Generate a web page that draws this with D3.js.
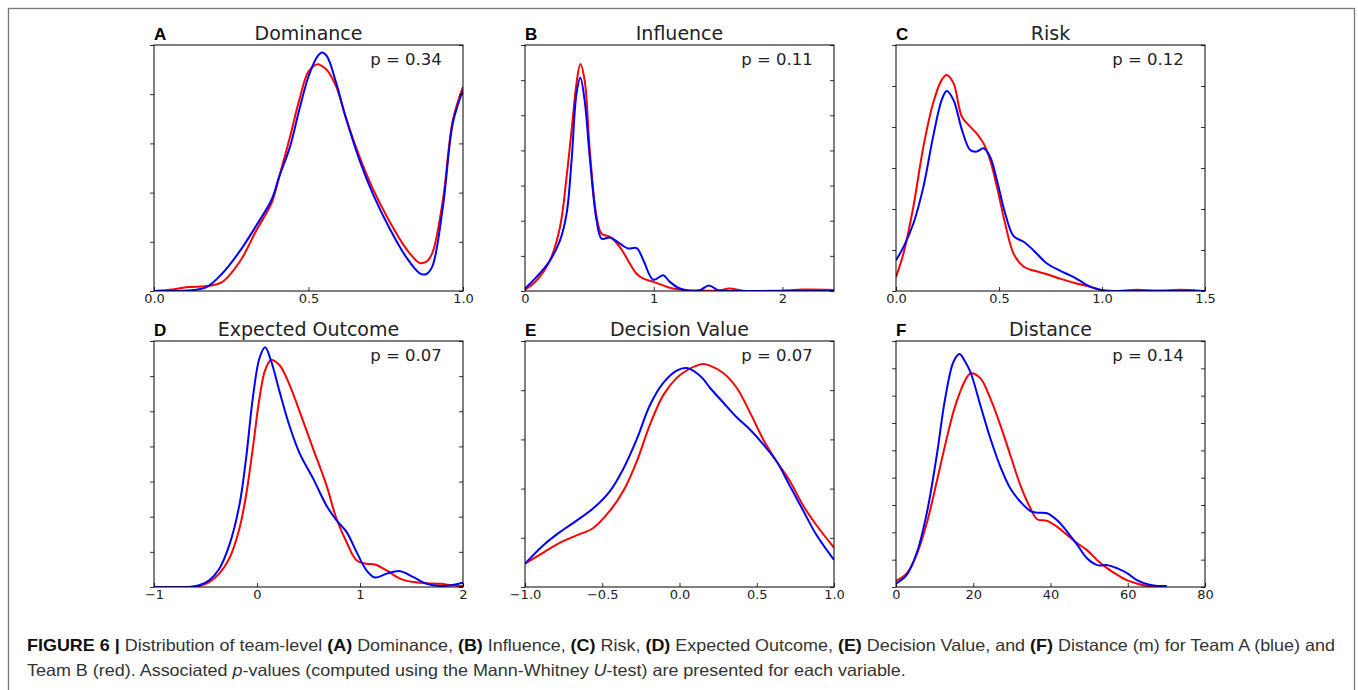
<!DOCTYPE html>
<html>
<head>
<meta charset="utf-8">
<script src="https://cdn.jsdelivr.net/npm/d3@7"></script>
<style>
  body { margin: 0; background: #fff; }
  svg { display: block; }
</style>
</head>
<body>
<svg id="fig" width="1358" height="690"></svg>
<script>
// Kernel density curves. Team A = blue, Team B = red.

// (A) Dominance
const domX = [0, 0.06, 0.11, 0.17, 0.22, 0.28, 0.33, 0.38, 0.405, 0.44, 0.47, 0.50, 0.53, 0.544, 0.56, 0.59, 0.62, 0.665, 0.708, 0.76, 0.816, 0.86, 0.88, 0.90, 0.935, 0.967, 1.0];
const domA = [0, 0, 0.01, 0.08, 0.35, 0.83, 1.32, 1.85, 2.32, 2.93, 3.68, 4.36, 4.78, 4.85, 4.77, 4.22, 3.54, 2.66, 1.98, 1.30, 0.69, 0.36, 0.34, 0.49, 1.71, 3.41, 4.08];
const domB = [0, 0.03, 0.08, 0.10, 0.18, 0.62, 1.22, 1.78, 2.32, 3.13, 3.88, 4.46, 4.61, 4.57, 4.49, 4.15, 3.54, 2.73, 2.08, 1.44, 0.86, 0.57, 0.59, 0.76, 1.85, 3.47, 4.15];
const domTicks = [0, 0.5, 1];

// (B) Influence
const infX = [0, 0.09, 0.194, 0.272, 0.323, 0.362, 0.40, 0.43, 0.463, 0.505, 0.556, 0.595, 0.66, 0.737, 0.80, 0.867, 0.92, 0.996, 1.074, 1.125, 1.203, 1.28, 1.358, 1.428, 1.50, 1.59, 1.695, 1.953, 2.16, 2.4];
const infA = [0.07, 0.40, 0.87, 1.44, 2.2, 3.72, 5.62, 6.07, 5.43, 3.72, 2.01, 1.49, 1.52, 1.35, 1.21, 1.22, 0.87, 0.32, 0.45, 0.26, 0.07, 0, 0.02, 0.16, 0.02, 0, 0, 0, 0, 0];
const infB = [0.04, 0.30, 0.87, 1.82, 3.25, 4.58, 5.91, 6.46, 6.0, 3.91, 2.11, 1.63, 1.54, 1.25, 0.87, 0.49, 0.35, 0.26, 0.16, 0.09, 0.04, 0.02, 0.01, 0.01, 0.01, 0.07, 0.01, 0.01, 0.04, 0.03];
const infTicks = [0, 1, 2];

// (C) Risk
const riskX = [0, 0.036, 0.084, 0.133, 0.18, 0.222, 0.246, 0.279, 0.32, 0.36, 0.392, 0.425, 0.457, 0.49, 0.53, 0.571, 0.62, 0.668, 0.733, 0.798, 0.863, 0.944, 1.0, 1.057, 1.17, 1.268, 1.381, 1.5];
const riskA = [0.75, 1.07, 1.64, 2.54, 3.76, 4.66, 4.88, 4.66, 3.93, 3.44, 3.40, 3.48, 3.27, 2.70, 1.89, 1.34, 1.20, 0.99, 0.67, 0.49, 0.34, 0.10, 0.02, 0, 0, 0, 0, 0];
const riskB = [0.34, 0.91, 2.05, 3.52, 4.58, 5.15, 5.27, 5.07, 4.25, 4.01, 3.84, 3.60, 3.19, 2.54, 1.64, 0.91, 0.59, 0.50, 0.41, 0.30, 0.20, 0.10, 0.02, 0, 0.03, 0.01, 0.03, 0];
const riskTicks = [0, 0.5, 1, 1.5];

// (D) Expected Outcome
const expX = [-1, -0.659, -0.561, -0.464, -0.366, -0.269, -0.171, -0.106, -0.041, 0.024, 0.079, 0.137, 0.219, 0.316, 0.414, 0.544, 0.674, 0.771, 0.869, 0.966, 1.064, 1.145, 1.259, 1.389, 1.519, 1.649, 1.779, 1.892, 2.0];
const expA = [0, 0, 0.05, 0.19, 0.52, 1.19, 2.33, 3.66, 5.37, 6.51, 6.82, 6.43, 5.56, 4.58, 3.80, 3.09, 2.32, 1.90, 1.57, 1.00, 0.47, 0.27, 0.38, 0.45, 0.28, 0.09, 0.03, 0.05, 0.12];
const expB = [0, 0, 0.03, 0.14, 0.38, 0.81, 1.66, 2.61, 3.94, 5.37, 6.17, 6.46, 6.31, 5.75, 4.99, 3.94, 2.90, 1.95, 1.28, 0.76, 0.66, 0.64, 0.47, 0.24, 0.14, 0.11, 0.09, 0.05, 0.02];
const expTicks = [-1, 0, 1, 2];

// (E) Decision Value
const decX = [-1, -0.881, -0.773, -0.666, -0.558, -0.450, -0.364, -0.277, -0.191, -0.105, -0.018, 0.046, 0.111, 0.154, 0.197, 0.283, 0.370, 0.456, 0.542, 0.629, 0.715, 0.801, 0.888, 1.0];
const decA = [0.095, 0.17, 0.224, 0.27, 0.32, 0.39, 0.48, 0.60, 0.74, 0.83, 0.88, 0.89, 0.87, 0.845, 0.81, 0.75, 0.69, 0.64, 0.58, 0.51, 0.41, 0.31, 0.21, 0.11];
const decB = [0.095, 0.14, 0.18, 0.21, 0.24, 0.31, 0.39, 0.51, 0.66, 0.78, 0.85, 0.88, 0.90, 0.906, 0.90, 0.87, 0.81, 0.71, 0.60, 0.51, 0.43, 0.33, 0.25, 0.16];
const decTicks = [-1, -0.5, 0, 0.5, 1];

// (F) Distance (m)
const distX = [0, 2.77, 5.45, 8.05, 10.56, 12.73, 14.89, 16.45, 17.92, 19.39, 21.82, 24.42, 27.01, 29.61, 32.21, 34.81, 36.54, 39.13, 41.73, 44.33, 46.93, 49.52, 52.12, 54.72, 57.32, 59.91, 62.51, 65.11, 67.71, 70.13];
const distA = [0.0006, 0.0022, 0.0064, 0.0138, 0.0241, 0.0345, 0.0412, 0.0426, 0.0412, 0.0391, 0.0333, 0.0272, 0.0220, 0.0180, 0.0156, 0.0139, 0.0136, 0.0135, 0.0122, 0.0101, 0.0077, 0.0052, 0.0040, 0.0040, 0.0034, 0.0025, 0.0012, 0.0005, 0.0002, 0.0002];
const distB = [0.0011, 0.0025, 0.0061, 0.0119, 0.0193, 0.0260, 0.0321, 0.0354, 0.0378, 0.0391, 0.0382, 0.0345, 0.0296, 0.0241, 0.0186, 0.0144, 0.0124, 0.0121, 0.0110, 0.0095, 0.0080, 0.0067, 0.0049, 0.0034, 0.0022, 0.0012, 0.0006, 0.0002, 0.0001, 0];
const distTicks = [0, 20, 40, 60, 80];

const letters = ["A", "B", "C", "D", "E", "F"];
const titles = ["Dominance", "Influence", "Risk", "Expected Outcome", "Decision Value", "Distance"];
const pValues = ["0.34", "0.11", "0.12", "0.07", "0.07", "0.14"];

const panels = [
  { xs: domX,  a: domA,  b: domB,  xDomain: [0, 1],    xTicks: domTicks,  fmt: ".1f", yMax: 5,     yStep: 1 },
  { xs: infX,  a: infA,  b: infB,  xDomain: [0, 2.4],  xTicks: infTicks,  fmt: "d",   yMax: 7,     yStep: 1 },
  { xs: riskX, a: riskA, b: riskB, xDomain: [0, 1.5],  xTicks: riskTicks, fmt: ".1f", yMax: 6,     yStep: 1 },
  { xs: expX,  a: expA,  b: expB,  xDomain: [-1, 2],   xTicks: expTicks,  fmt: "d",   yMax: 7,     yStep: 1 },
  { xs: decX,  a: decA,  b: decB,  xDomain: [-1, 1],   xTicks: decTicks,  fmt: ".1f", yMax: 1,     yStep: 0.2 },
  { xs: distX, a: distA, b: distB, xDomain: [0, 80],   xTicks: distTicks, fmt: "d",   yMax: 0.045, yStep: 0.005 }
];

// layout
const svg = d3.select("#fig");
const W = 309, H = 246;
const lefts = [154, 525, 896];
const tops = [45, 341];
const mplFont = "'DejaVu Sans', sans-serif";

// outer frame of the figure
svg.append("rect")
  .attr("x", 8.5).attr("y", 8.5)
  .attr("width", 1346).attr("height", 700)
  .attr("fill", "none")
  .attr("stroke", "#777")
  .attr("stroke-width", 1.3);

const defs = svg.append("defs");

panels.forEach((p, i) => {
  const g = svg.append("g")
    .attr("transform", `translate(${lefts[i % 3]},${tops[Math.floor(i / 3)]})`);

  const x = d3.scaleLinear().domain(p.xDomain).range([0, W]);
  const y = d3.scaleLinear().domain([0, p.yMax]).range([H, 0]);
  const yTicks = d3.range(0, p.yMax + p.yStep / 2, p.yStep);

  defs.append("clipPath").attr("id", "clip" + i)
    .append("rect").attr("width", W).attr("height", H);

  const line = d3.line()
    .x((d, k) => x(p.xs[k]))
    .y(d => y(d))
    .curve(d3.curveCatmullRom.alpha(0.5));

  const plot = g.append("g").attr("clip-path", `url(#clip${i})`);
  // team B (red) first, team A (blue) over it
  plot.append("path").attr("d", line(p.b))
    .attr("fill", "none").attr("stroke", "#ff0000").attr("stroke-width", 2);
  plot.append("path").attr("d", line(p.a))
    .attr("fill", "none").attr("stroke", "#0000ff").attr("stroke-width", 2);

  // axes: inward ticks bottom/right, outward left
  const xAxis = g.append("g").attr("transform", `translate(0,${H})`)
    .call(d3.axisBottom(x).tickValues(p.xTicks).tickFormat(d3.format(p.fmt))
      .tickSizeInner(-4).tickSizeOuter(0).tickPadding(3));
  const yLeft = g.append("g")
    .call(d3.axisLeft(y).tickValues(yTicks).tickFormat("").tickSizeInner(4).tickSizeOuter(0));
  const yRight = g.append("g").attr("transform", `translate(${W},0)`)
    .call(d3.axisRight(y).tickValues(yTicks).tickFormat("").tickSizeInner(-4).tickSizeOuter(0));

  [xAxis, yLeft, yRight].forEach(a => {
    a.select(".domain").remove();
    a.selectAll(".tick line").attr("stroke", "#000").attr("stroke-width", 0.8);
  });
  xAxis.selectAll("text")
    .attr("font-family", mplFont).attr("font-size", 13).attr("fill", "#222");

  g.append("rect")
    .attr("width", W).attr("height", H)
    .attr("fill", "none").attr("stroke", "#000").attr("stroke-width", 1);

  // title, letter, p-value
  g.append("text")
    .attr("x", W / 2).attr("y", -5)
    .attr("text-anchor", "middle")
    .attr("font-family", mplFont).attr("font-size", 19).attr("fill", "#222")
    .text(titles[i]);
  g.append("text")
    .attr("x", 0).attr("y", -5)
    .attr("font-family", "'Liberation Sans', Arial, sans-serif")
    .attr("font-weight", "bold").attr("font-size", 17).attr("fill", "#000")
    .text(letters[i]);
  g.append("text")
    .attr("x", W * 0.70).attr("y", 20)
    .attr("font-family", mplFont).attr("font-size", 16.5).attr("fill", "#222")
    .text("p = " + pValues[i]);
});

// caption
const captionLines = [
  [["FIGURE 6 | ", "b"], ["Distribution of team-level ", ""], ["(A)", "b"], [" Dominance, ", ""],
   ["(B)", "b"], [" Influence, ", ""], ["(C)", "b"], [" Risk, ", ""], ["(D)", "b"], [" Expected Outcome, ", ""],
   ["(E)", "b"], [" Decision Value, and ", ""], ["(F)", "b"], [" Distance (m) for Team A (blue) and", ""]],
  [["Team B (red). Associated ", ""], ["p", "i"], ["-values (computed using the Mann-Whitney ", ""],
   ["U", "i"], ["-test) are presented for each variable.", ""]]
];

const capNodes = captionLines.map((segs, li) => {
  const t = svg.append("text")
    .attr("x", 27).attr("y", 651 + li * 25)
    .attr("font-family", "'Liberation Sans', Arial, sans-serif")
    .attr("font-size", 16.5)
    .attr("fill", "#333")
    .style("white-space", "pre");
  segs.forEach(([s, st]) => {
    const ts = t.append("tspan").text(s);
    if (st === "b") ts.attr("font-weight", "bold").attr("fill", "#111");
    if (st === "i") ts.attr("font-style", "italic");
  });
  return t;
});

// condense the caption to the width of the printed line
const natural = capNodes.map(t => t.node().getComputedTextLength());
const ratio = 1308 / natural[0];
capNodes.forEach((t, k) => {
  t.attr("textLength", natural[k] * ratio).attr("lengthAdjust", "spacingAndGlyphs");
});
</script>
</body>
</html>
